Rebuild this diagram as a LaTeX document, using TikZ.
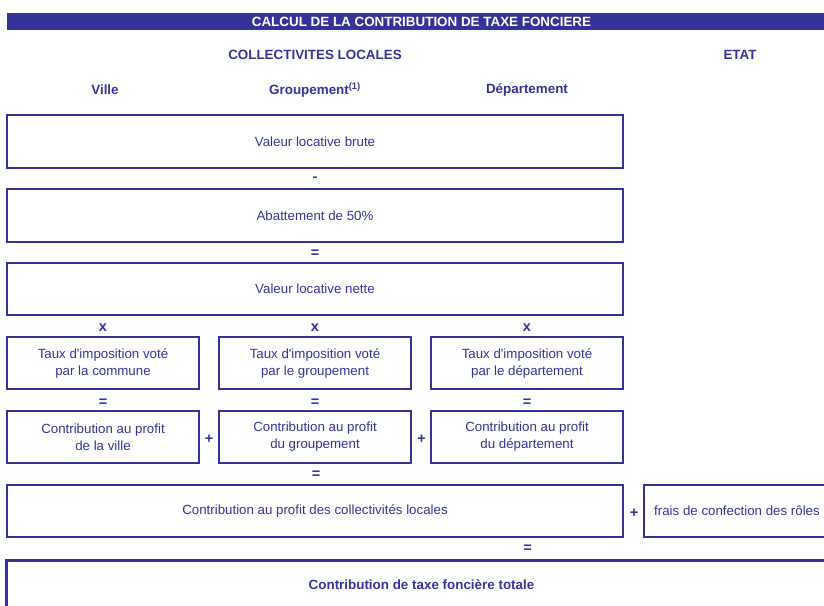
\documentclass[tikz,border=0pt]{standalone}
\usepackage{fontspec}
\setmainfont{Liberation Sans}[Ligatures=TeXOff]
\definecolor{bl}{HTML}{333399}
\newcommand\regf{\fontsize{13.3bp}{17bp}\selectfont}
\newcommand\bldf{\fontsize{13.4bp}{15bp}\selectfont\bfseries}
\newcommand\opf{\fontsize{14.5bp}{15bp}\selectfont\bfseries}
\begin{document}
\begin{tikzpicture}[x=1bp,y=-1bp,
  box/.style={draw=bl, line width=2bp, inner sep=0pt, outer sep=0pt, text=bl, font=\regf, align=center, minimum height=52.5bp},
  widebox/.style={box, minimum width=616bp},
  smallbox/.style={box, minimum width=192bp},
  op/.style={text=bl, font=\opf, inner sep=0pt},
  hd/.style={text=bl, font=\bldf, inner sep=0pt}]
\useasboundingbox (0,0) rectangle (824,606);
\clip (0,0) rectangle (824,606);
% header bar
\node[fill=bl, inner sep=0pt, minimum width=829bp, minimum height=16.7bp, text=white, font=\bldf] (title) at (421.5,21.7) {CALCUL DE LA CONTRIBUTION DE TAXE FONCIERE};
\node[hd] (coll) at (315,55) {COLLECTIVITES LOCALES};
\node[hd] (etat) at (740,55) {ETAT};
\node[hd] (ville) at (105,90) {Ville};
\node[hd] (grp) at (315,90) {Groupement\textsuperscript{(1)}};
\node[hd] (dep) at (527,90) {Département};
% main boxes
\node[widebox] (vlb) at (315,141.5) {Valeur locative brute};
\node[op] (minus) at (315,179) {-};
\node[widebox] (abat) at (315,215.5) {Abattement de 50\%};
\node[op] (eq1) at (315,254) {=};
\node[widebox] (vln) at (315,289.2) {Valeur locative nette};
\node[op] (x1) at (103,328) {x};
\node[op] (x2) at (315,328) {x};
\node[op] (x3) at (527,328) {x};
\node[smallbox] (t1) at (103,363) {Taux d'imposition voté\\par la commune};
\node[smallbox] (t2) at (315,363) {Taux d'imposition voté\\par le groupement};
\node[smallbox] (t3) at (527,363) {Taux d'imposition voté\\par le département};
\node[op] (e1) at (103,403) {=};
\node[op] (e2) at (315,403) {=};
\node[op] (e3) at (527,403) {=};
\node[smallbox] (c1) at (103,437) {Contribution au profit\\de la ville};
\node[smallbox] (c2) at (315,437) {Contribution au profit\\du groupement};
\node[smallbox] (c3) at (527,437) {Contribution au profit\\du département};
\node[op] (p1) at (209,439) {+};
\node[op] (p2) at (421.5,439) {+};
\node[op] (e4) at (316,475) {=};
\node[widebox] (coltot) at (315,511) {Contribution au profit des collectivités locales};
\node[op] (p3) at (634,513) {+};
\node[box, minimum width=186bp] (frais) at (737,511) {frais de confection des rôles};
\node[op] (e5) at (527.7,549) {=};
\node[box, line width=3bp, minimum width=829bp, minimum height=52bp] (total) at (421.5,586) {};
\node[hd] (totaltxt) at (421.5,585) {Contribution de taxe foncière totale};
\end{tikzpicture}
\end{document}
